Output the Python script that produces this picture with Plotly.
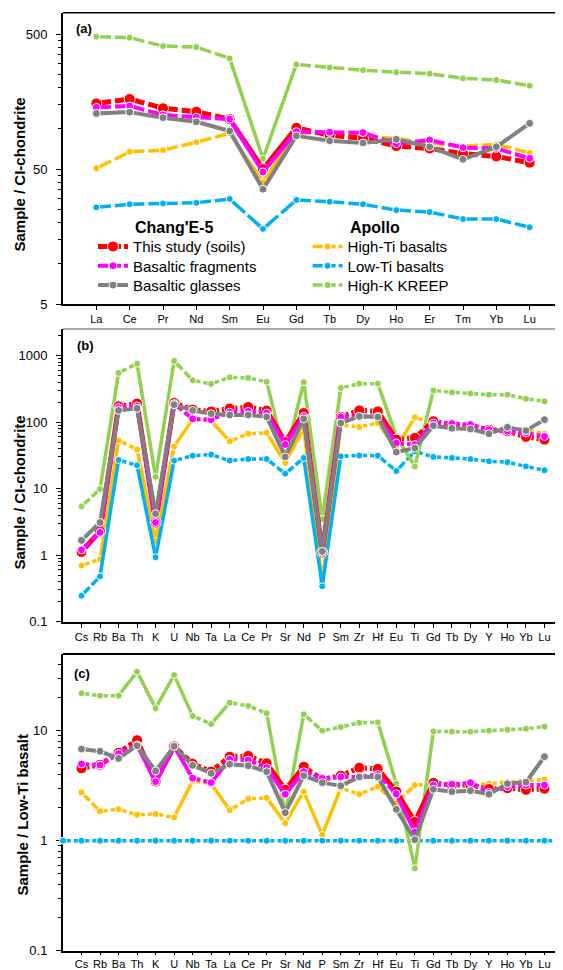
import math
import plotly.graph_objects as go

# ---------------- data ----------------
REE = ["La", "Ce", "Pr", "Nd", "Sm", "Eu", "Gd", "Tb", "Dy", "Ho", "Er", "Tm", "Yb", "Lu"]
SPIDER = ["Cs", "Rb", "Ba", "Th", "K", "U", "Nb", "Ta", "La", "Ce", "Pr", "Sr", "Nd", "P",
          "Sm", "Zr", "Hf", "Eu", "Ti", "Gd", "Tb", "Dy", "Y", "Ho", "Yb", "Lu"]
# axis slots: one blank slot at each end (as in the original chart)
REE_AXIS = [""] + REE + [""]
SPIDER_AXIS = [""] + SPIDER + [""]

# (a) CI-chondrite normalised REE
a_soil = [153, 165, 141, 133, 117, 50, 101, 89, 84.5, 74, 71, 65, 62, 55.7]
a_frag = [143, 146.5, 126, 121, 117, 47.5, 94.6, 93.6, 93, 77, 82, 72, 71, 60]
a_glass = [129, 132, 120, 112, 95.6, 35.4, 88, 81, 78, 83, 73, 59, 73, 109]
a_hiti = [50.6, 67, 69, 79, 92, 40, 93, 92, 88, 84, 78, 74, 76, 66]
a_loti = [26, 27.4, 27.8, 28.1, 30, 18, 29.5, 28.6, 27.4, 24.8, 24, 21.3, 21.3, 18.5]
a_kreep = [478, 470, 407, 400, 330, 59.6, 298, 283, 270, 261, 254, 235, 228, 207]

# (b) CI-chondrite normalised trace elements
b_soil = [1.12, 2.3, 173, 190, 3.1, 194, 154, 145, 160, 169, 149, 50, 137, 1.1, 120, 150, 145,
          54.6, 58, 103, 92, 86.5, 77, 73, 60, 54.6]
b_frag = [1.2, 2.2, 165, 175, 3.1, 190, 112, 109, 141, 145, 137, 46, 122, 1.1, 120, 122, 122,
          48.6, 46, 97, 95, 92, 77, 73, 69, 61]
b_glass = [1.67, 3.1, 150, 161, 4.2, 183, 150, 134, 128, 128, 120, 30, 112, 1.14, 97, 122, 120,
           35.5, 40.7, 88.5, 81, 79, 67, 83.6, 74.5, 109]
b_hiti = [0.7, 0.87, 53, 38.7, 1.63, 43, 110, 105, 51.5, 67, 69, 24.4, 81, 0.38, 91.6, 84.5, 97,
          41, 118, 99, 92, 87, 79, 79, 77, 67]
b_loti = [0.246, 0.48, 27, 22.4, 0.93, 26.4, 31.3, 32.5, 26.4, 27.9, 27.9, 16.8, 28.9, 0.34, 30.6,
          31.5, 31.3, 18.5, 36.4, 30, 29, 27.9, 25.8, 25, 21.6, 18.9]
b_kreep = [5.4, 9.9, 550, 758, 15, 832, 425, 375, 472, 462, 403, 30, 398, 3.5, 326, 379, 379,
           61, 21.6, 298, 281, 269, 259, 259, 225, 206]

# (c) Low-Ti basalt normalised
c_soil = [4.55, 4.9, 6.3, 8.2, 3.45, 7.2, 5.0, 4.25, 5.8, 5.9, 5.05, 2.9, 4.7, 3.6, 3.9, 4.6, 4.5,
          2.8, 1.48, 3.35, 3.2, 3.2, 2.95, 3.0, 2.9, 2.97]
c_frag = [4.98, 4.87, 6.2, 7.4, 3.44, 7.2, 3.7, 3.37, 5.5, 5.4, 4.6, 2.64, 4.24, 3.69, 3.8, 3.8, 4.0,
          2.66, 1.2, 3.2, 3.25, 3.37, 2.75, 3.1, 3.2, 3.2]
c_glass = [6.8, 6.5, 5.6, 7.3, 4.3, 7.2, 4.84, 4.1, 4.95, 4.8, 4.24, 1.8, 3.9, 3.37, 3.15, 3.8, 3.8,
           1.93, 1.02, 2.93, 2.79, 2.85, 2.64, 3.3, 3.4, 5.8]
c_hiti = [2.75, 1.85, 1.93, 1.72, 1.75, 1.63, 3.5, 3.3, 1.9, 2.4, 2.45, 1.45, 2.79, 1.13, 3.0, 2.65,
          3.1, 2.2, 3.2, 3.25, 3.2, 3.2, 3.3, 3.4, 3.5, 3.6]
# low-Ti basalt normalised to itself (spans all axis slots incl. the blank end slots)
c_loti = [1.0, 1.0, 1.0, 1.0, 1.0, 1.0, 1.0, 1.0, 1.0, 1.0, 1.0, 1.0, 1.0, 1.0,
          1.0, 1.0, 1.0, 1.0, 1.0, 1.0, 1.0, 1.0, 1.0, 1.0, 1.0, 1.0, 1.0, 1.0]
c_kreep = [21.9, 20.8, 20.8, 34.4, 16, 32, 13.6, 11.5, 18, 16.8, 14.4, 1.75, 14.1, 10, 10.8, 11.8,
           11.9, 3.3, 0.56, 9.85, 9.8, 9.8, 10.0, 10.2, 10.4, 10.9]

NAMES = {"soil": "This study (soils)", "frag": "Basaltic fragments", "glass": "Basaltic glasses",
         "hiti": "High-Ti basalts", "loti": "Low-Ti basalts", "kreep": "High-K KREEP"}

# ---------------- styles ----------------
STYLE = {
    "hiti":  dict(color="#FFC000", lw=3.5, ms=7, dashed=True),
    "loti":  dict(color="#00B0F0", lw=3.5, ms=7, dashed=True),
    "kreep": dict(color="#92D050", lw=3.5, ms=7, dashed=True),
    "soil":  dict(color="#FF0000", lw=5.0, ms=11, dashed=True),
    "frag":  dict(color="#FF00FF", lw=4.0, ms=8, dashed=True),
    "glass": dict(color="#808080", lw=4.0, ms=8, dashed=False),
}
ORDER = ["hiti", "loti", "kreep", "soil", "frag", "glass"]
FONT = "Liberation Sans, Arial, sans-serif"

# The page body has an 8px margin: the figure is sized/positioned to fill the window exactly.
OFF = 8
W, H = 563 - OFF, 970 - OFF
ML = 63 - OFF          # left edge of the plot areas (page x = 63)
PW = W - ML            # plot areas run to the right window edge
# panel pixel boxes in page coordinates (top, bottom) and log ranges
PANELS = {
    "a": dict(top=12.7, bot=304.0, yr=(math.log10(5), 2.857), xr=(0, len(REE_AXIS) - 1)),
    "b": dict(top=329.0, bot=621.7, yr=(-1.0, 3.40), xr=(0, len(SPIDER_AXIS) - 1)),
    "c": dict(top=654.0, bot=950.7, yr=(-1.0, 1.697), xr=(0, len(SPIDER_AXIS) - 1)),
}
AX = {"a": ("x", "y"), "b": ("x2", "y2"), "c": ("x3", "y3")}


def px_x(xpage):
    return (xpage - OFF - ML) / PW


def px_y(ypage):
    return 1 - (ypage - OFF) / H


fig = go.Figure()


def add_series(panel, key, xs, ys, gap, solid_limit):
    st = STYLE[key]
    p = PANELS[panel]
    pxx = PW / (p["xr"][1] - p["xr"][0])
    pxd = (p["bot"] - p["top"]) / (p["yr"][1] - p["yr"][0])
    xa, ya = AX[panel]
    for i in range(len(xs) - 1):
        dx = (xs[i + 1] - xs[i]) * pxx
        dy = (math.log10(ys[i + 1]) - math.log10(ys[i])) * pxd
        L = math.hypot(dx, dy)
        if st["dashed"] and L <= solid_limit:
            a = max((L - gap) / 2.0, 1.0)
            dash = f"{a:.1f}px,{gap}px,{L + 20:.1f}px"
        else:
            dash = "solid"
        fig.add_trace(go.Scatter(
            x=[xs[i], xs[i + 1]], y=[ys[i], ys[i + 1]], mode="lines",
            line=dict(color=st["color"], width=st["lw"], dash=dash),
            showlegend=False, hoverinfo="skip", xaxis=xa, yaxis=ya))
    fig.add_trace(go.Scatter(
        x=xs, y=ys, mode="markers", name=NAMES[key],
        marker=dict(size=st["ms"], color=st["color"], line=dict(color="white", width=1)),
        showlegend=False, xaxis=xa, yaxis=ya,
        cliponaxis=(key != "loti" or panel != "c")))


ree_x = list(range(1, len(REE) + 1))
sp_x = list(range(1, len(SPIDER) + 1))
sp_x_full = list(range(0, len(SPIDER_AXIS)))

A = {"soil": a_soil, "frag": a_frag, "glass": a_glass, "hiti": a_hiti, "loti": a_loti, "kreep": a_kreep}
B = {"soil": b_soil, "frag": b_frag, "glass": b_glass, "hiti": b_hiti, "loti": b_loti, "kreep": b_kreep}
C = {"soil": c_soil, "frag": c_frag, "glass": c_glass, "hiti": c_hiti, "loti": c_loti, "kreep": c_kreep}

for k in ORDER:
    add_series("a", k, ree_x, A[k], 4, 50)
for k in ORDER:
    add_series("b", k, sp_x, B[k], 3, 27)
for k in ORDER:
    xs = sp_x_full if k == "loti" else sp_x
    add_series("c", k, xs, C[k], 3, 27)

# legend: two columns x three rows, each entry its own single-item legend box
LEG_COLS = [133.0, 347.6]           # page x of the entry text
LEG_ROWS = [246.7, 266.0, 285.3]    # page y of the entry centre
LEG_LAYOUT = [("soil", 0, 0), ("frag", 0, 1), ("glass", 0, 2),
              ("hiti", 1, 0), ("loti", 1, 1), ("kreep", 1, 2)]
legend_cfg = {}
for n, (k, col, row) in enumerate(LEG_LAYOUT):
    st = STYLE[k]
    lname = "legend" if n == 0 else f"legend{n + 1}"
    fig.add_trace(go.Scatter(
        x=[None], y=[None], mode="lines+markers", name=NAMES[k], legend=lname,
        line=dict(color=st["color"], width=st["lw"], dash="10px,3px" if st["dashed"] else "solid"),
        marker=dict(size=st["ms"], color=st["color"], line=dict(color="white", width=1)),
        xaxis="x", yaxis="y"))
    legend_cfg[lname] = dict(x=px_x(LEG_COLS[col] - 40), xanchor="left",
                             y=px_y(LEG_ROWS[row]), yanchor="middle",
                             font=dict(family=FONT, size=15, color="black"),
                             bgcolor="rgba(0,0,0,0)", borderwidth=0,
                             itemclick=False, itemdoubleclick=False)


def ydom(p):
    return [1 - (p["bot"] - OFF) / H, 1 - (p["top"] - OFF) / H]


def minor_vals(base, decades):
    out = []
    for d in decades:
        for k in range(2, 10):
            out.append(base * k * 10 ** d)
    return out


def xaxis_cfg(p, labels, anchor, ticklen=4):
    return dict(domain=[0, 1], range=list(p["xr"]), anchor=anchor,
                tickmode="array", tickvals=list(range(1, len(labels) - 1)),
                ticktext=labels[1:-1], ticks="outside", ticklen=ticklen, tickcolor="black", tickwidth=1,
                showline=True, linecolor="black", linewidth=2, showgrid=False, zeroline=False,
                tickfont=dict(family=FONT, size=11, color="black"), automargin=False)


def yaxis_cfg(p, anchor, majors, minors):
    return dict(type="log", domain=ydom(p), range=list(p["yr"]), anchor=anchor,
                tickmode="array", tickvals=majors, ticktext=[f"{v:g}" for v in majors],
                ticks="outside", ticklen=5, tickcolor="black", tickwidth=1, ticklabelstandoff=6,
                minor=dict(tickmode="array", tickvals=minors, ticks="outside", ticklen=3,
                           tickcolor="black", tickwidth=1, showgrid=False),
                showline=True, linecolor="black", linewidth=2, showgrid=False, zeroline=False,
                tickfont=dict(family=FONT, size=13, color="black"), automargin=False)


fig.update_layout(
    width=W, height=H, margin=dict(l=ML, r=0, t=0, b=0),
    paper_bgcolor="white", plot_bgcolor="white",
    font=dict(family=FONT, color="black"),
    xaxis=xaxis_cfg(PANELS["a"], REE_AXIS, "y"),
    xaxis2=xaxis_cfg(PANELS["b"], SPIDER_AXIS, "y2"),
    xaxis3=xaxis_cfg(PANELS["c"], SPIDER_AXIS, "y3", ticklen=2),
    yaxis=yaxis_cfg(PANELS["a"], "x", [5, 50, 500], minor_vals(5, [0, 1])),
    yaxis2=yaxis_cfg(PANELS["b"], "x2", [0.1, 1, 10, 100, 1000], minor_vals(1, [-1, 0, 1, 2, 3])[:-5]),
    yaxis3=yaxis_cfg(PANELS["c"], "x3", [0.1, 1, 10], minor_vals(1, [-1, 0]) + [20, 30, 40]),
    showlegend=True,
    **legend_cfg,
)
fig.layout.yaxis3.layer = "below traces"

# top border lines
for xa, ya, col, w in [("x", "y", "black", 1.5), ("x2", "y2", "#8C8C8C", 1.5), ("x3", "y3", "black", 2)]:
    fig.add_shape(type="line", xref=f"{xa} domain", yref=f"{ya} domain", x0=0, x1=1, y0=1, y1=1,
                  line=dict(color=col, width=w))


def ann(text, xpage, ypage, size, bold=True, angle=0, xanchor="center"):
    fig.add_annotation(text=f"<b>{text}</b>" if bold else text, xref="paper", yref="paper",
                       x=px_x(xpage), y=px_y(ypage), xanchor=xanchor, yanchor="middle",
                       textangle=angle, showarrow=False,
                       font=dict(family=FONT, size=size, color="black"))


ann("Sample / CI-chondrite", 19, 174.5, 15, angle=-90)
ann("Sample / CI-chondrite", 19, 492.5, 15, angle=-90)
ann("Sample / Low-Ti basalt", 22, 815.5, 15, angle=-90)
ann("(a)", 73.5, 28, 13, xanchor="left")
ann("(b)", 75, 345, 13, xanchor="left")
ann("(c)", 72, 673, 13, xanchor="left")
ann("Chang'E-5", 133, 227.7, 16, xanchor="left")
ann("Apollo", 347.6, 227.7, 16, xanchor="left")

fig.write_html("out.html")
